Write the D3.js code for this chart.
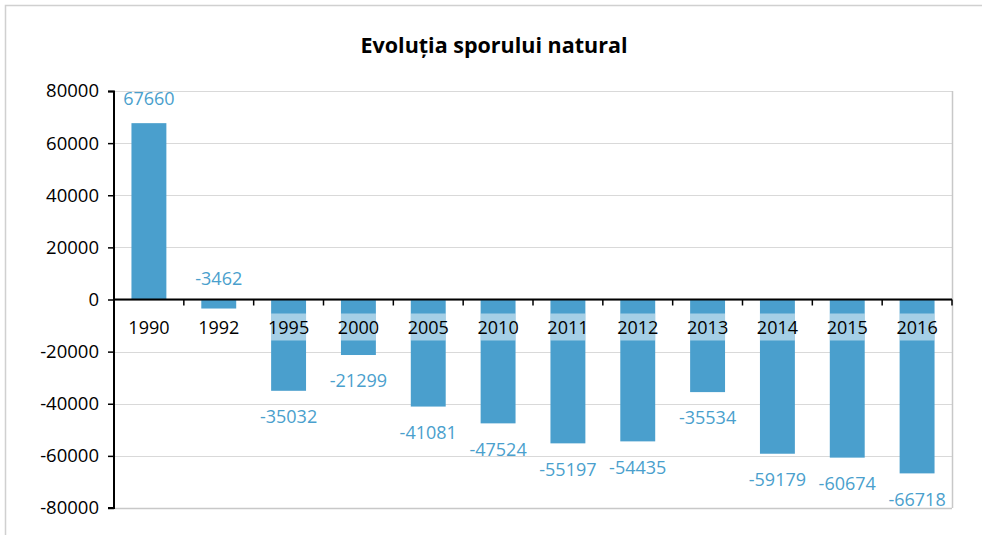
<!DOCTYPE html>
<html>
<head>
<meta charset="utf-8">
<script src="https://cdn.jsdelivr.net/npm/d3@7"></script>
<style>
  body { margin: 0; background: #fff; }
  svg { display: block; font-family: "Open Sans", sans-serif; }
</style>
</head>
<body>
<svg id="chart" width="982" height="535"></svg>
<script>
// data
var years = ["1990", "1992", "1995", "2000", "2005", "2010", "2011", "2012", "2013", "2014", "2015", "2016"];
var values = [67660, -3462, -35032, -21299, -41081, -47524, -55197, -54435, -35534, -59179, -60674, -66718];
var yTicks = [80000, 60000, 40000, 20000, 0, -20000, -40000, -60000, -80000];
var title = "Evoluția sporului natural";

var barColor = "#4a9fcd",
    labelColor = "#4a9fcd";

var svg = d3.select("#chart");
var margin = { left: 114, right: 30, top: 91, bottom: 27 },
    width = 982 - margin.left - margin.right,
    height = 535 - margin.top - margin.bottom;

// outer chart frame
svg.append("rect")
    .attr("x", 5.5).attr("y", 5.5)
    .attr("width", 990).attr("height", 560)
    .attr("fill", "none")
    .attr("stroke", "#d0d0d0")
    .attr("stroke-width", 1.5);

svg.append("text")
    .attr("x", 494).attr("y", 53)
    .attr("text-anchor", "middle")
    .attr("font-size", 21.5)
    .attr("font-weight", "bold")
    .attr("fill", "#000")
    .text(title);

var g = svg.append("g")
    .attr("transform", "translate(" + margin.left + "," + margin.top + ")");

var x = d3.scaleBand().domain(years).range([0, width]).paddingInner(0.5).paddingOuter(0.25);
var xb = d3.scaleBand().domain(years).range([0, width]);
var y = d3.scaleLinear().domain([-80000, 80000]).range([height, 0]);

// gridlines
g.selectAll("line.grid")
    .data(yTicks)
  .enter().append("line")
    .attr("class", "grid")
    .attr("x1", 0).attr("x2", width)
    .attr("y1", function (d) { return Math.round(y(d)) + 0.5; })
    .attr("y2", function (d) { return Math.round(y(d)) + 0.5; })
    .attr("stroke", "#d9d9d9")
    .attr("stroke-width", 1.2);

// plot area right and bottom edge
g.append("line")
    .attr("x1", width + 0.5).attr("x2", width + 0.5)
    .attr("y1", 0).attr("y2", height)
    .attr("stroke", "#c8c8c8").attr("stroke-width", 1.5);
g.append("line")
    .attr("x1", 0).attr("x2", width)
    .attr("y1", height + 0.5).attr("y2", height + 0.5)
    .attr("stroke", "#c8c8c8").attr("stroke-width", 1.5);

// bars
g.selectAll("rect.bar")
    .data(values)
  .enter().append("rect")
    .attr("class", "bar")
    .attr("x", function (d, i) { return x(years[i]); })
    .attr("width", x.bandwidth())
    .attr("y", function (d) { return y(Math.max(0, d)); })
    .attr("height", function (d) { return Math.abs(y(d) - y(0)); })
    .attr("fill", barColor);

// y axis (plain hyphen for negatives, like the original)
var yAxis = d3.axisLeft(y).tickValues(yTicks).tickSize(6).tickPadding(9)
    .tickFormat(function (d) { return String(d); });
var ya = g.append("g").call(yAxis);
ya.select(".domain").attr("stroke", "#000").attr("stroke-width", 2)
    .attr("d", "M-6,0.5H0V" + height + "H-6");
ya.selectAll(".tick line").attr("stroke", "#000").attr("stroke-width", 1.5);
ya.selectAll(".tick text").attr("font-size", 18.5).attr("fill", "#000")
    .attr("font-family", "Open Sans, sans-serif");

// zero line with category ticks on band boundaries
var za = g.append("g").attr("transform", "translate(0," + y(0) + ")");
za.append("line")
    .attr("x1", 0).attr("x2", width)
    .attr("stroke", "#000").attr("stroke-width", 2);
za.selectAll("line.ctick")
    .data(years.slice(1).concat(["end"]))
  .enter().append("line")
    .attr("class", "ctick")
    .attr("x1", function (d) { return d === "end" ? width : xb(d); })
    .attr("x2", function (d) { return d === "end" ? width : xb(d); })
    .attr("y1", 0).attr("y2", 6)
    .attr("stroke", "#000").attr("stroke-width", 1.5);

// category labels with translucent white box
var cat = za.selectAll("g.cat")
    .data(years)
  .enter().append("g")
    .attr("class", "cat")
    .attr("transform", function (d) { return "translate(" + (xb(d) + xb.bandwidth() / 2) + ",28)"; });
cat.append("rect")
    .attr("x", -x.bandwidth() / 2).attr("width", x.bandwidth())
    .attr("y", -14).attr("height", 27)
    .attr("fill", "#fff").attr("fill-opacity", 0.5);
cat.append("text")
    .attr("text-anchor", "middle")
    .attr("dy", "0.35em")
    .attr("font-size", 18)
    .attr("fill", "#000")
    .text(function (d) { return d; });

// value labels at outside end; small negatives sit above the zero line
g.selectAll("text.val")
    .data(values)
  .enter().append("text")
    .attr("class", "val")
    .attr("x", function (d, i) { return x(years[i]) + x.bandwidth() / 2; })
    .attr("y", function (d) {
        if (d >= 0) return y(d) - 24;
        if (d > -10000) return y(0) - 21;
        return y(d) + 26;
    })
    .attr("dy", "0.35em")
    .attr("text-anchor", "middle")
    .attr("font-size", 18)
    .attr("fill", labelColor)
    .text(function (d) { return d; });
</script>
</body>
</html>
